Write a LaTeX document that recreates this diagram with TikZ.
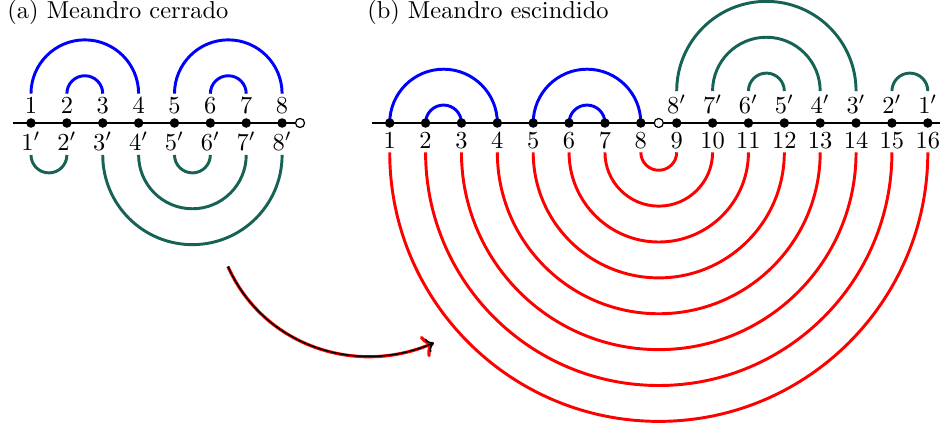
\documentclass[tikz,border=0pt]{standalone}
\usepackage{amsmath,amssymb}
\usepackage{xcolor}
\usepackage{tikz}
\usetikzlibrary{arrows.meta}
\usetikzlibrary{positioning}

\definecolor{meangreen}{RGB}{22,98,84}

\tikzset{
    pt/.style={circle, fill=black, inner sep=0pt, minimum size=3.9pt},
    hole/.style={circle, draw=black, fill=white, line width=.5pt, inner sep=0pt, minimum size=3.7pt},
    lab/.style={inner sep=1.5pt, font=\normalsize},
    axis/.style={thick},
    upper/.style={blue, line width=1.2pt},
    lower/.style={meangreen, line width=1.2pt},
    split/.style={red, line width=1.2pt},
    trans/.style={->, black, line width=.6pt, preaction={draw, red, line width=1.3pt}},
    caption/.style={anchor=base west, inner sep=0pt, font=\normalsize}
}

\begin{document}
\begin{tikzpicture}[x=0.5156cm, y=0.5156cm]
    \useasboundingbox (-0.864,-8.419) rectangle (25.34,3.429);

    % (a) closed meander
    \node[caption] (ta) at (-0.67,2.9) {(a) Meandro cerrado};
    \draw[axis] (-0.5,0) -- (7.5,0);
    \node[pt] (a1) at (0,0) {};
    \node[pt] (a2) at (1,0) {};
    \node[pt] (a3) at (2,0) {};
    \node[pt] (a4) at (3,0) {};
    \node[pt] (a5) at (4,0) {};
    \node[pt] (a6) at (5,0) {};
    \node[pt] (a7) at (6,0) {};
    \node[pt] (a8) at (7,0) {};
    \node[hole] (ha) at (7.5,0) {};
    \node[lab, above=0pt of a1] (au1) {$1$};
    \node[lab, above=0pt of a2] (au2) {$2$};
    \node[lab, above=0pt of a3] (au3) {$3$};
    \node[lab, above=0pt of a4] (au4) {$4$};
    \node[lab, above=0pt of a5] (au5) {$5$};
    \node[lab, above=0pt of a6] (au6) {$6$};
    \node[lab, above=0pt of a7] (au7) {$7$};
    \node[lab, above=0pt of a8] (au8) {$8$};
    \node[lab, below=0pt of a1] (ad1) {$1'$};
    \node[lab, below=0pt of a2] (ad2) {$2'$};
    \node[lab, below=0pt of a3] (ad3) {$3'$};
    \node[lab, below=0pt of a4] (ad4) {$4'$};
    \node[lab, below=0pt of a5] (ad5) {$5'$};
    \node[lab, below=0pt of a6] (ad6) {$6'$};
    \node[lab, below=0pt of a7] (ad7) {$7'$};
    \node[lab, below=0pt of a8] (ad8) {$8'$};
    \draw[upper] (au1.north) arc[start angle=180, end angle=0, radius=1.5];
    \draw[upper] (au2.north) arc[start angle=180, end angle=0, radius=.5];
    \draw[upper] (au5.north) arc[start angle=180, end angle=0, radius=1.5];
    \draw[upper] (au6.north) arc[start angle=180, end angle=0, radius=.5];
    \draw[lower] (ad1.south) arc[start angle=180, end angle=360, radius=.5];
    \draw[lower] (ad3.south) arc[start angle=180, end angle=360, radius=2.5];
    \draw[lower] (ad4.south) arc[start angle=180, end angle=360, radius=1.5];
    \draw[lower] (ad5.south) arc[start angle=180, end angle=360, radius=.5];

    % (b) split meander
    \node[caption] (tb) at (9.36,2.9) {(b) Meandro escindido};
    \draw[axis] (9.5,0) -- (25.6,0);
    \draw[upper] (10,0) coordinate (s1) arc[start angle=180, end angle=0, radius=1.5];
    \draw[upper] (11,0) coordinate (s2) arc[start angle=180, end angle=0, radius=.5];
    \draw[upper] (14,0) coordinate (s5) arc[start angle=180, end angle=0, radius=1.5];
    \draw[upper] (15,0) coordinate (s6) arc[start angle=180, end angle=0, radius=.5];
    \node[pt] (b1) at (10,0) {};
    \node[pt] (b2) at (11,0) {};
    \node[pt] (b3) at (12,0) {};
    \node[pt] (b4) at (13,0) {};
    \node[pt] (b5) at (14,0) {};
    \node[pt] (b6) at (15,0) {};
    \node[pt] (b7) at (16,0) {};
    \node[pt] (b8) at (17,0) {};
    \node[hole] (hb) at (17.5,0) {};
    \node[pt] (b9) at (18,0) {};
    \node[pt] (b10) at (19,0) {};
    \node[pt] (b11) at (20,0) {};
    \node[pt] (b12) at (21,0) {};
    \node[pt] (b13) at (22,0) {};
    \node[pt] (b14) at (23,0) {};
    \node[pt] (b15) at (24,0) {};
    \node[pt] (b16) at (25,0) {};
    \node[lab, above=0pt of b9] (bu9) {$8'$};
    \node[lab, above=0pt of b10] (bu10) {$7'$};
    \node[lab, above=0pt of b11] (bu11) {$6'$};
    \node[lab, above=0pt of b12] (bu12) {$5'$};
    \node[lab, above=0pt of b13] (bu13) {$4'$};
    \node[lab, above=0pt of b14] (bu14) {$3'$};
    \node[lab, above=0pt of b15] (bu15) {$2'$};
    \node[lab, above=0pt of b16] (bu16) {$1'$};
    \node[lab, below=0pt of b1] (bd1) {$1$};
    \node[lab, below=0pt of b2] (bd2) {$2$};
    \node[lab, below=0pt of b3] (bd3) {$3$};
    \node[lab, below=0pt of b4] (bd4) {$4$};
    \node[lab, below=0pt of b5] (bd5) {$5$};
    \node[lab, below=0pt of b6] (bd6) {$6$};
    \node[lab, below=0pt of b7] (bd7) {$7$};
    \node[lab, below=0pt of b8] (bd8) {$8$};
    \node[lab, below=0pt of b9] (bd9) {$9$};
    \node[lab, below=0pt of b10] (bd10) {$10$};
    \node[lab, below=0pt of b11] (bd11) {$11$};
    \node[lab, below=0pt of b12] (bd12) {$12$};
    \node[lab, below=0pt of b13] (bd13) {$13$};
    \node[lab, below=0pt of b14] (bd14) {$14$};
    \node[lab, below=0pt of b15] (bd15) {$15$};
    \node[lab, below=0pt of b16] (bd16) {$16$};
    \draw[lower] (bu9.north) arc[start angle=180, end angle=0, radius=2.5];
    \draw[lower] (bu10.north) arc[start angle=180, end angle=0, radius=1.5];
    \draw[lower] (bu11.north) arc[start angle=180, end angle=0, radius=.5];
    \draw[lower] (bu15.north) arc[start angle=180, end angle=0, radius=.5];
    \draw[split] (bd8.south) arc[start angle=180, end angle=360, radius=.5];
    \draw[split] (bd7.south) arc[start angle=180, end angle=360, radius=1.5];
    \draw[split] (bd6.south) arc[start angle=180, end angle=360, radius=2.5];
    \draw[split] (bd5.south) arc[start angle=180, end angle=360, radius=3.5];
    \draw[split] (bd4.south) arc[start angle=180, end angle=360, radius=4.5];
    \draw[split] (bd3.south) arc[start angle=180, end angle=360, radius=5.5];
    \draw[split] (bd2.south) arc[start angle=180, end angle=360, radius=6.5];
    \draw[split] (bd1.south) arc[start angle=180, end angle=360, radius=7.5];

    % from (a) to (b)
    \coordinate (from) at (5.49,-4.0);
    \coordinate (to) at (11.23,-6.13);
    \draw[trans] (from) to[out=-66, in=203] (to);
\end{tikzpicture}
\end{document}
